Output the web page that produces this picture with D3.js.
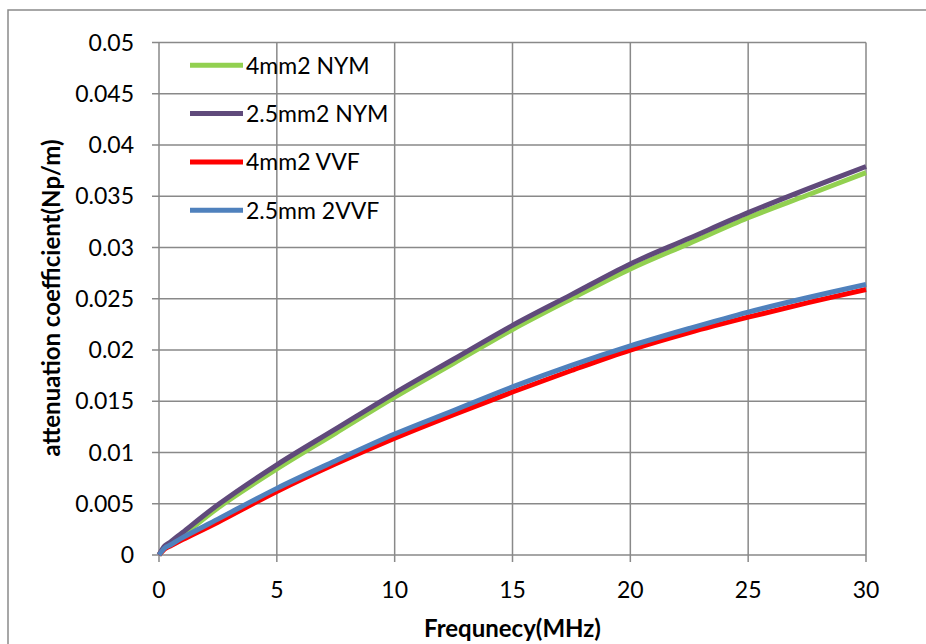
<!DOCTYPE html>
<html>
<head>
<meta charset="utf-8">
<script src="https://cdn.jsdelivr.net/npm/d3@7"></script>
<style>
  body { margin: 0; background: #fff; }
  svg { display: block; font-family: Lato, "Open Sans", sans-serif; }
</style>
</head>
<body>
<svg id="svg1" width="926" height="644"></svg>
<script>
// frequency points (MHz)
var freq = [0, 0.25, 0.5, 1, 2.5, 5, 7.5, 10, 12.5, 15, 17.5, 20, 22.5, 25, 27.5, 30];

// attenuation (Np/m)
var nym4   = [0, 0.0007, 0.0011, 0.0019, 0.0046, 0.0084, 0.0119, 0.0154, 0.0187, 0.0220, 0.0250, 0.0279, 0.0304, 0.0329, 0.0351, 0.0373];
var nym25  = [0, 0.0009, 0.0013, 0.0022, 0.0049, 0.0088, 0.0123, 0.0158, 0.0191, 0.0224, 0.0254, 0.0284, 0.0309, 0.0334, 0.0357, 0.0379];
var vvf4   = [0, 0.0006, 0.0009, 0.0015, 0.0032, 0.0062, 0.0089, 0.0114, 0.0137, 0.0159, 0.0180, 0.0200, 0.0217, 0.0232, 0.0246, 0.0259];
var vvf25  = [0, 0.0007, 0.0010, 0.0017, 0.0035, 0.0065, 0.0092, 0.0118, 0.0141, 0.0164, 0.0185, 0.0204, 0.0221, 0.0237, 0.0251, 0.0264];

var seriesNames = ['4mm2 NYM', '2.5mm2 NYM', '4mm2 VVF', '2.5mm 2VVF'];
var seriesColors = ['#92d050', '#604a7b', '#ff0000', '#4f81bd'];
var seriesValues = [nym4, nym25, vvf4, vvf25];

var xTicks = [0, 5, 10, 15, 20, 25, 30];
var yTicks = [0, 0.005, 0.01, 0.015, 0.02, 0.025, 0.03, 0.035, 0.04, 0.045, 0.05];

var svg = d3.select('svg');

// outer chart frame (right/bottom edges fall outside the picture)
svg.append('rect')
    .attr('x', 8).attr('y', 10)
    .attr('width', 940).attr('height', 660)
    .attr('fill', 'none')
    .attr('stroke', '#8a8a8a')
    .attr('stroke-width', 1.5);

var plotLeft = 159, plotRight = 866, plotTop = 42.5, plotBottom = 555;

var x = d3.scaleLinear().domain([0, 30]).range([plotLeft, plotRight]);
var y = d3.scaleLinear().domain([0, 0.05]).range([plotBottom, plotTop]);

var grid = svg.append('g');

// horizontal gridlines with the tick stubs to the left
grid.selectAll('line.h')
    .data(yTicks)
    .enter()
    .append('line')
    .attr('class', 'h')
    .attr('x1', plotLeft - 7).attr('x2', plotRight)
    .attr('y1', function(d){ return y(d); })
    .attr('y2', function(d){ return y(d); })
    .attr('stroke', '#898989')
    .attr('stroke-width', 1.5);

// vertical gridlines with the tick stubs below
grid.selectAll('line.v')
    .data(xTicks)
    .enter()
    .append('line')
    .attr('class', 'v')
    .attr('y1', plotTop).attr('y2', plotBottom + 7)
    .attr('x1', function(d){ return x(d); })
    .attr('x2', function(d){ return x(d); })
    .attr('stroke', '#898989')
    .attr('stroke-width', 1.5);

// tick labels
svg.append('g').selectAll('text')
    .data(yTicks)
    .enter()
    .append('text')
    .attr('x', 134)
    .attr('y', function(d){ return y(d) + 8; })
    .attr('text-anchor', 'end')
    .attr('font-size', 23)
    .attr('fill', '#000')
    .text(function(d){ return d3.format('~g')(d); });

svg.append('g').selectAll('text')
    .data(xTicks)
    .enter()
    .append('text')
    .attr('x', function(d){ return x(d); })
    .attr('y', 598)
    .attr('text-anchor', 'middle')
    .attr('font-size', 23)
    .attr('fill', '#000')
    .text(function(d){ return d; });

// axis titles
svg.append('text')
    .attr('x', (plotLeft + plotRight) / 2)
    .attr('y', 637)
    .attr('text-anchor', 'middle')
    .attr('font-size', 24)
    .attr('font-weight', 'bold')
    .text('Frequnecy(MHz)');

svg.append('text')
    .attr('transform', 'translate(60,298) rotate(-90)')
    .attr('text-anchor', 'middle')
    .attr('font-size', 24)
    .attr('font-weight', 'bold')
    .text('attenuation coefficient(Np/m)');

// series lines
var line = d3.line()
    .x(function(d){ return x(d[0]); })
    .y(function(d){ return y(d[1]); })
    .curve(d3.curveCatmullRom.alpha(0.5));

svg.append('g').selectAll('path')
    .data(seriesValues)
    .enter()
    .append('path')
    .attr('d', function(vals){
        return line(freq.map(function(f, i){ return [f, vals[i]]; }));
    })
    .attr('fill', 'none')
    .attr('stroke', function(d, i){ return seriesColors[i]; })
    .attr('stroke-width', 5)
    .attr('stroke-linejoin', 'round');

// legend
var legend = svg.append('g').selectAll('g')
    .data(seriesNames)
    .enter()
    .append('g')
    .attr('transform', function(d, i){ return 'translate(0,' + (65.3 + i * 48.3) + ')'; });

legend.append('line')
    .attr('x1', 190).attr('x2', 243)
    .attr('stroke', function(d, i){ return seriesColors[i]; })
    .attr('stroke-width', 5);

legend.append('text')
    .attr('x', 246)
    .attr('y', 8.5)
    .attr('font-size', 23)
    .text(function(d){ return d; });
</script>
</body>
</html>
